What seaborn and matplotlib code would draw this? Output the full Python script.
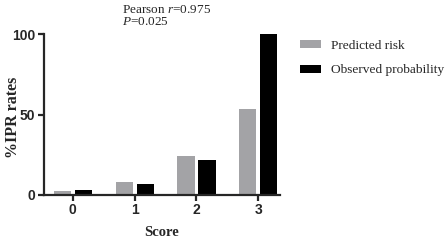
import numpy as np
import matplotlib
matplotlib.use("Agg")
import matplotlib.pyplot as plt
from matplotlib.font_manager import FontProperties
import pandas as pd
import seaborn as sns

# Data
scores = ["0", "1", "2", "3"]
predicted = [2.5, 8, 24, 53.5]
observed = [3, 7, 22, 100]
series = ["Predicted risk", "Observed probability"]

df = pd.DataFrame({
    "Score": scores * 2,
    "rate": predicted + observed,
    "group": [series[0]] * 4 + [series[1]] * 4,
})

sns.set_style("ticks")
plt.rcParams['font.family'] = ['Liberation Sans', 'DejaVu Sans']
plt.rcParams['mathtext.fontset'] = 'custom'
plt.rcParams['mathtext.rm'] = 'Liberation Serif'
plt.rcParams['mathtext.it'] = 'Liberation Serif:italic'

fig = plt.figure(figsize=(4.47, 2.40), dpi=100)
ax = fig.add_axes([0.098, 0.1875, 0.528, 0.67])

sns.barplot(data=df, x="Score", y="rate", hue="group", order=scores,
            hue_order=series, palette=["#a3a3a6", "#000000"],
            width=0.68, gap=0.18, edgecolor="none", ax=ax)

ax.set_ylim(0, 100)
ax.set_xlim(-0.47, 3.35)
ax.set_yticks([0, 50, 100])
sns.despine(ax=ax)
for s in ["left", "bottom"]:
    ax.spines[s].set_linewidth(1.6)
ax.tick_params(axis="both", width=1.6, length=4, labelsize=10, pad=2)
for lab in ax.get_xticklabels() + ax.get_yticklabels():
    lab.set_fontfamily("Liberation Sans")
    lab.set_fontweight("bold")

ax.set_xlabel("Score", family="Liberation Serif", fontweight="bold",
              fontsize=10.5, labelpad=6)
ax.set_ylabel("%IPR rates", family="Liberation Serif", fontweight="bold",
              fontsize=11.5)
ax.yaxis.set_label_coords(-0.095, 0.48)

leg_font = FontProperties(family="Liberation Serif", size=9.6)
ax.legend(loc="upper left", bbox_to_anchor=(1.085, 0.965), frameon=False,
          borderaxespad=0, borderpad=0, prop=leg_font,
          handlelength=1.55, handleheight=0.6, handletextpad=0.75,
          labelspacing=0.95)

fig.text(0.273, 0.946, "Pearson $r$=0.975", family="Liberation Serif",
         fontsize=9.5, va="baseline")
fig.text(0.273, 0.896, "$P$=0.025", family="Liberation Serif",
         fontsize=9.5, va="baseline")

fig.savefig("out.png", dpi=100)
